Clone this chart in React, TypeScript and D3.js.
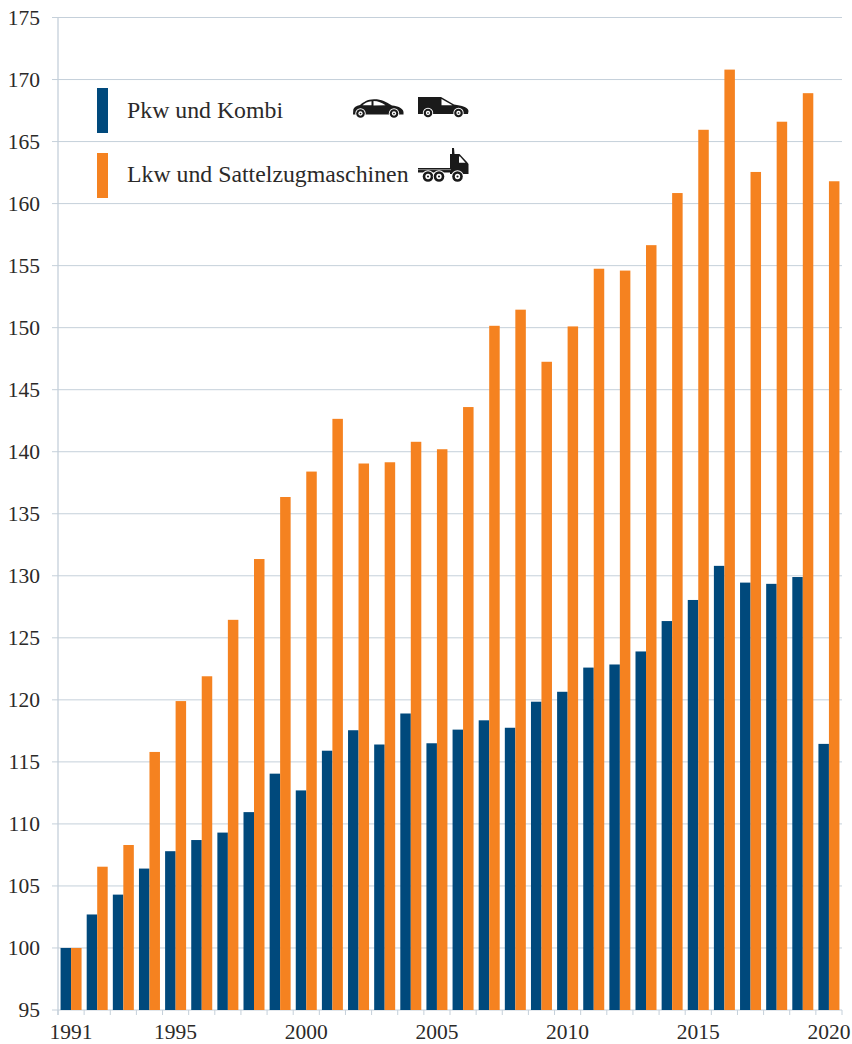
import React from "react";
import * as d3 from "d3";

const years = d3.range(1991, 2021);
const pkw = [100,102.7,104.3,106.4,107.8,108.7,109.3,110.95,114.05,112.7,115.9,117.55,116.4,118.9,116.5,117.6,118.35,117.75,119.85,120.65,122.6,122.85,123.9,126.35,128.05,130.8,129.45,129.35,129.9,116.45];
const lkw = [100,106.55,108.3,115.8,119.9,121.9,126.45,131.35,136.35,138.4,142.65,139.05,139.15,140.8,140.2,143.6,150.15,151.45,147.25,150.1,154.75,154.6,156.65,160.85,165.95,170.8,162.55,166.6,168.9,161.8];
const yTicks = d3.range(95, 180, 5);
const xLabels = [1991, 1995, 2000, 2005, 2010, 2015, 2020];
const BLUE = "#00497c";
const ORANGE = "#f58220";
const GRID = "#c5d0da";
const TEXT = "#2b2a29";
const INK = "#1a1a1a";
const FONT = "'Liberation Serif', serif";

const L = 58, R = 842, T = 17.5, B = 1010;

const Wheel = ({ cx, cy, r = 5 }: { cx: number; cy: number; r?: number }) => (
  <g>
    <circle cx={cx} cy={cy} r={r + 0.9} fill="#fff" />
    <circle cx={cx} cy={cy} r={r} fill={INK} />
    <circle cx={cx} cy={cy} r={r * 0.5} fill="#fff" />
    <circle cx={cx} cy={cy} r={r * 0.2} fill={INK} />
  </g>
);

const Car = ({ x, y }: { x: number; y: number }) => (
  <g transform={`translate(${x},${y})`}>
    <path fill={INK} d="M0 15.5 L0.3 10.5 C1 8 3 7 7 6 C11 3 14 0.5 21 0.3 C29 0.3 33 3 39 6.5 C45 7.3 50 9 50.5 13 L50.5 15.5 Z" />
    <path fill="#fff" d="M9.5 6.2 C12 4 14.5 2.6 18.5 2.2 L18.5 6.2 Z M20.5 2.1 C25 2.1 29 3.8 32.5 6.2 L20.5 6.4 Z" />
    <Wheel cx={7.5} cy={14.5} r={4.3} />
    <Wheel cx={41} cy={14.5} r={4.3} />
  </g>
);

const Van = ({ x, y }: { x: number; y: number }) => (
  <g transform={`translate(${x},${y})`}>
    <path fill={INK} d="M0 0 L23 0 L36 7.5 C44 8.5 50 10 50.5 14 L50 17 L0 17 Z" />
    <path fill="#fff" d="M23.5 2 L34.5 8.3 L23.5 8.3 Z" />
    <Wheel cx={10} cy={16} r={4.3} />
    <Wheel cx={40.5} cy={16} r={4.3} />
  </g>
);

const Truck = ({ x, y }: { x: number; y: number }) => (
  <g transform={`translate(${x},${y})`}>
    <path fill={INK} d="M34 0 L36 0 L36.5 6 L41.5 6 L49 14 L50.5 16 L50.5 26 L32 26 L32 6 L34 6 Z" />
    <rect x={0} y={20} width={33} height={4.5} fill={INK} />
    <rect x={0} y={21.3} width={33} height={0.8} fill="#fff" opacity={0.6} />
    <path fill="#fff" d="M41 8.5 L42 8.5 L47.5 14.8 L41 14.8 Z" />
    <Wheel cx={10} cy={28.5} r={5.3} />
    <Wheel cx={21} cy={28.5} r={5.3} />
    <Wheel cx={39.5} cy={28.5} r={5.3} />
  </g>
);

export default function App() {
  const x = d3.scaleBand<number>().domain(years).range([L, R]);
  const y = d3.scaleLinear().domain([95, 175]).range([B, T]);
  const bw = 10.5;
  const edges = [...years.map((v) => x(v)!), R];
  return (
    <svg width={852} height={1044} style={{ position: "absolute", left: 0, top: 0, background: "#fff" }} fontFamily={FONT}>
      {yTicks.map((t) => (
        <line key={t} x1={L - 6} x2={R} y1={y(t)} y2={y(t)} stroke={GRID} strokeWidth={1} />
      ))}
      <line x1={L} x2={L} y1={T} y2={B + 5} stroke={GRID} strokeWidth={1.3} />
      {edges.map((e, i) => (
        <line key={i} x1={e} x2={e} y1={B} y2={B + 5} stroke={GRID} strokeWidth={1} />
      ))}
      {years.map((yr, i) => {
        const c = x(yr)! + x.bandwidth() / 2;
        return (
          <g key={yr}>
            <rect x={c - bw} y={y(pkw[i])} width={bw} height={B - y(pkw[i])} fill={BLUE} />
            <rect x={c} y={y(lkw[i])} width={bw} height={B - y(lkw[i])} fill={ORANGE} />
          </g>
        );
      })}
      {yTicks.map((t) => (
        <text key={t} x={40} y={y(t)} dy="0.33em" textAnchor="end" fontSize={21.5} fill={TEXT}>{t}</text>
      ))}
      {xLabels.map((t) => (
        <text key={t} x={x(t)! + x.bandwidth() / 2} y={1039} textAnchor="middle" fontSize={21.5} fill={TEXT}>{t}</text>
      ))}
      <rect x={97} y={88} width={11} height={45} fill={BLUE} />
      <rect x={97} y={153} width={11} height={45} fill={ORANGE} />
      <text x={127} y={118} fontSize={23.8} fill={TEXT}>Pkw und Kombi</text>
      <text x={127} y={182} fontSize={23.8} fill={TEXT}>Lkw und Sattelzugmaschinen</text>
      <Car x={353} y={99} />
      <Van x={418} y={97} />
      <Truck x={418} y={148} />
    </svg>
  );
}
